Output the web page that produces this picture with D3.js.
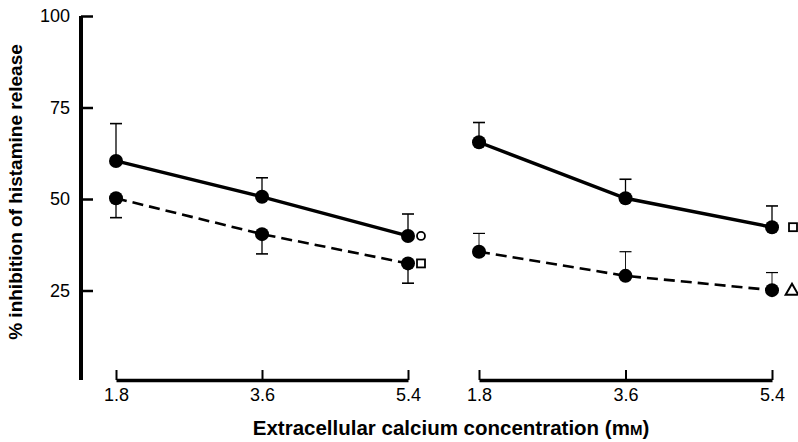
<!DOCTYPE html>
<html><head><meta charset="utf-8">
<script src="https://cdn.jsdelivr.net/npm/d3@7/dist/d3.min.js"></script>
<style>body{margin:0;background:#fff}svg{display:block}text{font-family:"Liberation Sans",Arial,sans-serif;fill:#000}</style>
</head><body><svg id="c" width="798" height="442"></svg>
<script>
const concentrations = [1.8, 3.6, 5.4];
const yTicks = [25, 50, 75, 100];
// Left panel
const leftSolid = [60.4, 50.6, 39.9];
const leftSolidErr = [10.2, 5.2, 6.0];   // upward
const leftDashed = [50.2, 40.4, 32.4];
const leftDashedErr = [5.3, 5.4, 5.4];  // downward
// Right panel
const rightSolid = [65.5, 50.2, 42.3];
const rightSolidErr = [5.4, 5.2, 5.8];  // upward
const rightDashed = [35.6, 29.0, 25.1];
const rightDashedErr = [5.0, 6.6, 4.8]; // upward
const yTitle = "% inhibition of histamine release";

const svg = d3.select("#c");
const y = d3.scaleLinear().domain([0, 100]).range([382, 16]);
const xL = d3.scaleLinear().domain([1.8, 5.4]).range([116, 408]);
const xR = d3.scaleLinear().domain([1.8, 5.4]).range([479, 772]);

// Y axis
const ya = svg.append("g").attr("transform", "translate(81,0)")
  .call(d3.axisLeft(y).tickValues(yTicks).tickSizeInner(-12).tickSizeOuter(0).tickPadding(11));
ya.select(".domain").attr("stroke-width", 4).attr("d", `M0,${y(0)-2}V${y(100)}`);
ya.selectAll(".tick line").attr("stroke-width", 2.5);
ya.selectAll(".tick text").attr("font-size", 18).attr("font-family", "Liberation Sans, Arial, sans-serif").attr("fill", "#000");

svg.append("text").attr("transform", "translate(22,192) rotate(-90)")
  .attr("text-anchor", "middle").attr("font-size", 19).attr("font-weight", "bold").text(yTitle);

// X axes
[xL, xR].forEach(x => {
  const g = svg.append("g").attr("transform", "translate(0,380)")
    .call(d3.axisBottom(x).tickValues(concentrations).tickFormat(d3.format(".1f"))
      .tickSizeInner(-10).tickSizeOuter(0).tickPadding(8));
  g.select(".domain").attr("stroke-width", 3.5);
  g.selectAll(".tick line").attr("stroke-width", 2);
  g.selectAll(".tick text").attr("font-size", 18).attr("font-family", "Liberation Sans, Arial, sans-serif").attr("fill", "#000");
});

const xt = svg.append("text").attr("x", 451).attr("y", 435).attr("text-anchor", "middle")
  .attr("font-size", 20.5).attr("font-weight", "bold");
xt.append("tspan").text("Extracellular calcium concentration (m");
xt.append("tspan").attr("font-size", 15).text("M");
xt.append("tspan").text(")");

function series(x, vals, errs, dir, dashed, errW) {
  const line = d3.line().x((d, i) => x(concentrations[i])).y(d => y(d));
  svg.append("path").datum(vals).attr("d", line).attr("fill", "none").attr("stroke", "#000")
    .attr("stroke-width", dashed ? 2.6 : 3.4).attr("stroke-dasharray", dashed ? "11,6" : null);
  const g = svg.append("g");
  vals.forEach((v, i) => {
    const cx = x(concentrations[i]);
    const ye = y(v + dir * errs[i]);
    g.append("line").attr("x1", cx).attr("x2", cx).attr("y1", y(v)).attr("y2", ye)
      .attr("stroke", "#000").attr("stroke-width", errW);
    g.append("line").attr("x1", cx - 6).attr("x2", cx + 6).attr("y1", ye).attr("y2", ye)
      .attr("stroke", "#000").attr("stroke-width", errW + 0.3);
  });
  g.selectAll("circle").data(vals).join("circle")
    .attr("cx", (d, i) => x(concentrations[i])).attr("cy", d => y(d)).attr("r", 7).attr("fill", "#000");
}
series(xL, leftSolid, leftSolidErr, 1, false, 1.3);
series(xL, leftDashed, leftDashedErr, -1, true, 1.3);
series(xR, rightSolid, rightSolidErr, 1, false, 1.3);
series(xR, rightDashed, rightDashedErr, 1, true, 0.9);

// End symbols
const last = concentrations.length - 1;
svg.append("circle").attr("cx", xL(concentrations[last]) + 13).attr("cy", y(leftSolid[last]))
  .attr("r", 4).attr("fill", "none").attr("stroke", "#000").attr("stroke-width", 1.8);
svg.append("rect").attr("x", xL(concentrations[last]) + 9).attr("y", y(leftDashed[last]) - 4)
  .attr("width", 8).attr("height", 8).attr("fill", "none").attr("stroke", "#000").attr("stroke-width", 1.8);
svg.append("rect").attr("x", xR(concentrations[last]) + 17).attr("y", y(rightSolid[last]) - 4)
  .attr("width", 8).attr("height", 8).attr("fill", "none").attr("stroke", "#000").attr("stroke-width", 1.8);
svg.append("path").attr("d", d3.symbol(d3.symbolTriangle, 70)())
  .attr("transform", `translate(${xR(concentrations[last]) + 20},${y(rightDashed[last]) + 1})`)
  .attr("fill", "none").attr("stroke", "#000").attr("stroke-width", 2);
</script></body></html>
